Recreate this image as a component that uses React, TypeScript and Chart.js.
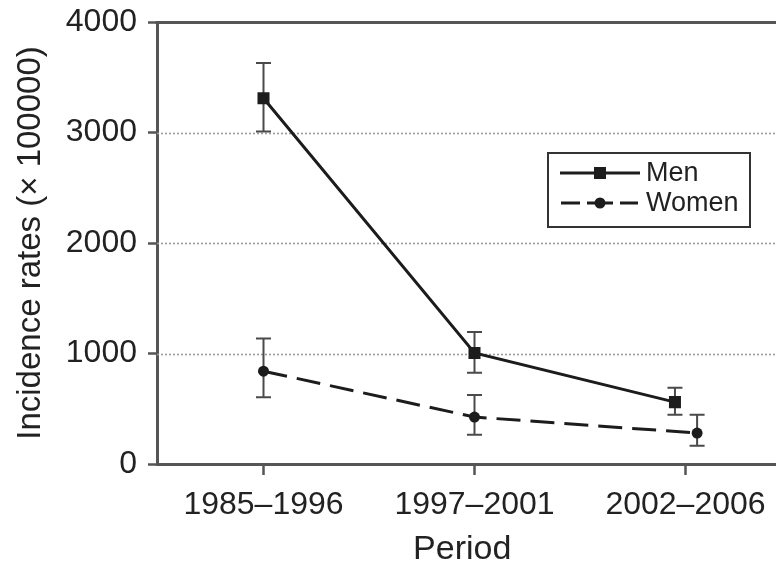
import React, { useEffect, useRef } from "react";
import { Chart, registerables } from "chart.js";

Chart.register(...registerables);

// Incidence rates per 100000, by period
const periods = ["1985–1996", "1997–2001", "2002–2006"];
const menRates = [3310, 1005, 560];
const menLow = [3010, 825, 445];
const menHigh = [3630, 1195, 690];
const womenRates = [840, 425, 280];
const womenLow = [605, 265, 165];
const womenHigh = [1135, 625, 445];
const yTicks = [0, 1000, 2000, 3000, 4000];

// small horizontal dodge so overlapping error bars stay readable
const menDodge = [0, 0, -0.05];
const womenDodge = [0, 0, 0.055];

// horizontal layout of the period axis: first period's pixel and spacing
const FIRST_PERIOD_PX = 263.5;
const PERIOD_STEP_PX = 211;

const FONT = "'Liberation Sans', Arial, Helvetica, sans-serif";
const AXIS = "#555";
const INK = "#1c1c1c";
const WOMEN_DASH = [24, 10];

type Bars = { low: number[]; high: number[]; dodge: number[] };
const errorBars: Bars[] = [
  { low: menLow, high: menHigh, dodge: menDodge },
  { low: womenLow, high: womenHigh, dodge: womenDodge },
];

// pin the period axis so the categories keep a fixed spacing
const periodAxisFit = {
  id: "periodAxisFit",
  afterLayout(chart: any) {
    const x = chart.scales.x;
    x.min = (x.left - FIRST_PERIOD_PX) / PERIOD_STEP_PX;
    x.max = (x.right - FIRST_PERIOD_PX) / PERIOD_STEP_PX;
    x.configure();
  },
};

const backdrop = {
  id: "backdrop",
  beforeDatasetsDraw(chart: any) {
    const { ctx, chartArea, scales } = chart;
    const x = scales.x;
    const y = scales.y;
    const farRight = chart.width;
    ctx.save();
    // dotted reference lines, running off the right edge
    ctx.strokeStyle = "#9a9a9a";
    ctx.lineWidth = 1.6;
    ctx.setLineDash([2, 2]);
    for (const v of yTicks) {
      if (v === 0 || v === 4000) continue;
      const py = Math.round(y.getPixelForValue(v)) + 0.5;
      ctx.beginPath();
      ctx.moveTo(chartArea.left, py);
      ctx.lineTo(farRight, py);
      ctx.stroke();
    }
    // solid frame lines at the top and bottom of the scale
    ctx.setLineDash([]);
    ctx.strokeStyle = AXIS;
    ctx.lineWidth = 3;
    ctx.lineCap = "butt";
    const top = Math.round(y.getPixelForValue(4000)) + 0.5;
    const bottom = Math.round(x.top) + 0.5;
    ctx.beginPath();
    ctx.moveTo(chartArea.left - 1.5, top);
    ctx.lineTo(farRight, top);
    ctx.moveTo(chartArea.right - 4, bottom);
    ctx.lineTo(farRight, bottom);
    ctx.stroke();

    // error bars
    ctx.strokeStyle = "#4a4a4a";
    ctx.lineWidth = 2;
    const cap = 7.5;
    errorBars.forEach((b) => {
      b.low.forEach((lo, i) => {
        const px = x.getPixelForValue(i + b.dodge[i]);
        const pLo = y.getPixelForValue(lo);
        const pHi = y.getPixelForValue(b.high[i]);
        ctx.beginPath();
        ctx.moveTo(px, pLo);
        ctx.lineTo(px, pHi);
        ctx.moveTo(px - cap, pLo);
        ctx.lineTo(px + cap, pLo);
        ctx.moveTo(px - cap, pHi);
        ctx.lineTo(px + cap, pHi);
        ctx.stroke();
      });
    });
    ctx.restore();
  },
};

const legendBox = {
  id: "legendBox",
  afterDraw(chart: any) {
    const { ctx } = chart;
    const bx = 548, by = 153, bw = 202, bh = 74;
    ctx.save();
    ctx.fillStyle = "#fff";
    ctx.fillRect(bx, by, bw, bh);
    ctx.strokeStyle = "#333";
    ctx.lineWidth = 2;
    ctx.strokeRect(bx, by, bw, bh);

    const rows = [
      { label: chart.data.datasets[0].label, y: 173, shape: "rect" },
      { label: chart.data.datasets[1].label, y: 203, shape: "circle" },
    ];
    rows.forEach((r) => {
      ctx.strokeStyle = INK;
      ctx.fillStyle = INK;
      ctx.lineWidth = 3;
      ctx.beginPath();
      if (r.shape === "rect") {
        ctx.moveTo(560, r.y);
        ctx.lineTo(640, r.y);
      } else {
        ctx.moveTo(561, r.y);
        ctx.lineTo(580, r.y);
        ctx.moveTo(587, r.y);
        ctx.lineTo(613, r.y);
        ctx.moveTo(620, r.y);
        ctx.lineTo(638, r.y);
      }
      ctx.stroke();
      if (r.shape === "rect") {
        ctx.fillRect(594, r.y - 6, 12, 12);
      } else {
        ctx.beginPath();
        ctx.arc(600, r.y, 5.5, 0, Math.PI * 2);
        ctx.fill();
      }
      ctx.font = `27px ${FONT}`;
      ctx.textBaseline = "middle";
      ctx.textAlign = "left";
      ctx.fillStyle = "#222";
      ctx.fillText(r.label, 646, r.y + 1);
    });
    ctx.restore();
  },
};

export default function App() {
  const ref = useRef<HTMLCanvasElement>(null);

  useEffect(() => {
    if (!ref.current) return;
    const chart = new Chart(ref.current, {
      type: "line",
      data: {
        datasets: [
          {
            label: "Men",
            data: menRates.map((v, i) => ({ x: i + menDodge[i], y: v })),
            borderColor: INK,
            backgroundColor: INK,
            borderWidth: 3,
            pointStyle: "rect",
            pointRadius: 8.5,
            pointBorderWidth: 0,
            tension: 0,
          },
          {
            label: "Women",
            data: womenRates.map((v, i) => ({ x: i + womenDodge[i], y: v })),
            borderColor: INK,
            backgroundColor: INK,
            borderWidth: 3,
            borderDash: WOMEN_DASH,
            pointStyle: "circle",
            pointRadius: 5.5,
            pointBorderWidth: 0,
            tension: 0,
          },
        ],
      },
      options: {
        responsive: false,
        animation: false,
        events: [],
        layout: { padding: { top: 22, left: 0, right: 0, bottom: 0 } },
        plugins: { legend: { display: false }, tooltip: { enabled: false } },
        scales: {
          x: {
            type: "linear",
            min: -0.505,
            max: 2.429,
            afterBuildTicks: (s: any) => {
              s.ticks = periods.map((_, i) => ({ value: i }));
            },
            afterFit: (s: any) => {
              s.height = 108;
              s.paddingLeft = 0;
              s.paddingRight = 0;
            },
            ticks: {
              autoSkip: false,
              maxRotation: 0,
              padding: 11,
              color: "#222",
              font: { family: FONT, size: 32 },
              callback: (v: any) => periods[v as number] ?? "",
            },
            grid: {
              drawOnChartArea: false,
              drawTicks: true,
              tickLength: 11,
              tickColor: AXIS,
              tickWidth: 2.5,
            },
            border: { display: true, color: AXIS, width: 3 },
            title: {
              display: true,
              text: "Period",
              color: "#222",
              font: { family: FONT, size: 34 },
              padding: { top: 0, bottom: 2 },
            },
          },
          y: {
            min: 0,
            max: 4000,
            afterBuildTicks: (s: any) => {
              s.ticks = yTicks.map((v) => ({ value: v }));
            },
            afterFit: (s: any) => {
              s.width = 157;
              s.paddingTop = 0;
              s.paddingBottom = 0;
            },
            ticks: {
              padding: 11,
              color: "#222",
              font: { family: FONT, size: 32 },
              callback: (v: any) => String(v),
            },
            grid: {
              drawOnChartArea: false,
              drawTicks: true,
              tickLength: 9,
              tickColor: AXIS,
              tickWidth: 2.5,
            },
            border: { display: true, color: AXIS, width: 3 },
            title: {
              display: true,
              text: "Incidence rates (× 100000)",
              color: "#222",
              font: { family: FONT, size: 33 },
              padding: { top: 11, bottom: 0 },
            },
          },
        },
      },
      plugins: [periodAxisFit, backdrop, legendBox],
    });
    return () => chart.destroy();
  }, []);

  return (
    <div style={{ position: "absolute", left: 0, top: 0, width: 776, height: 572, background: "#fff" }}>
      <canvas ref={ref} width={776} height={572} />
    </div>
  );
}
